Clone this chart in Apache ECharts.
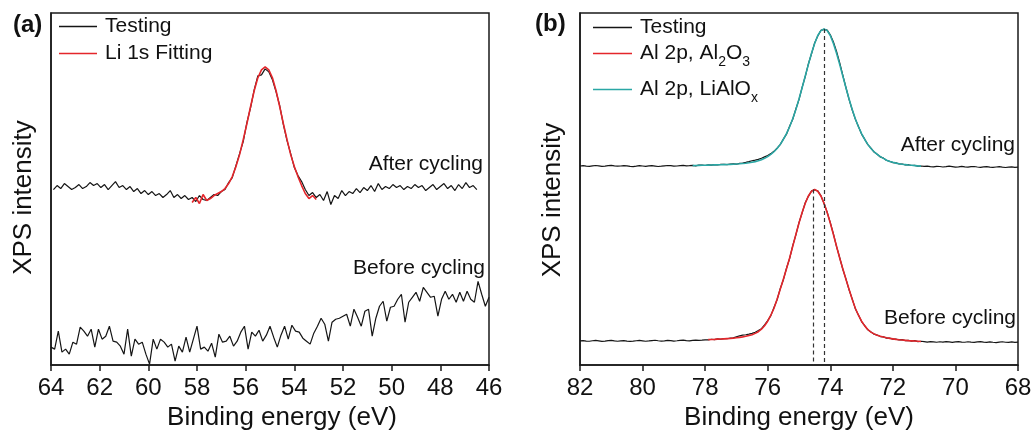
<!DOCTYPE html>
<html><head><meta charset="utf-8">
<script src="https://cdn.jsdelivr.net/npm/echarts@6/dist/echarts.min.js"></script>
<style>html,body{margin:0;padding:0;background:#fff}#chart{width:1036px;height:436px}</style>
</head><body><div id="chart"></div>
<script>
// ---------- Panel (a): Li 1s ----------
const aTicks = [64, 62, 60, 58, 56, 54, 52, 50, 48, 46];
const aAfterStart = 63.9, aAfterStep = 0.15;
const aTestingAfter = [176,180,177,182,179,176,178,181,177,179, 183,180,182,178,181,176,180,184,178,180,
  176,179,174,177,172,175,171,174,170,172, 168,171,175,168,171,167,170,166,168,164,
  170,166,165,168,171,170,174,176,183,188, 200,212,224,243,258,276,290,291,297,294,
  286,274,260,241,225,212,198,190,184,176, 170,173,168,171,165,174,161,170,167,175,
  170,174,172,177,173,178,175,180,174,182, 176,179,177,181,178,180,176,179,177,181,
  178,180,175,178,181,176,179,182,177,180, 175,181,177,183,178,180,176];
const aFitStart = 58.2, aFitStep = 0.15;
const aFitLi1s = [163,168,162,171,165,167,170,172,174,
  177,182,189,199,211,226,242,259,275,288,296,299,296,288,275,259,242,226,211,199,189,180,172,167,170,166];
const aBeforeStart = 64.0, aBeforeStep = 0.15;
const aTestingBefore = [18,16,34,13,16,11,23,21,38,34, 29,36,18,36,26,29,39,24,23,19,
  11,36,9,26,21,23,11,1,26,16, 26,23,18,21,4,19,13,28,13,26,
  39,16,18,14,22,8,31,23,24,29, 19,24,33,39,16,33,29,35,24,30,
  39,28,18,30,39,26,40,34,33,27, 24,21,32,39,47,41,24,43,46,47,
  49,51,39,56,48,39,54,56,29,47, 59,64,44,58,59,66,71,43,63,68,
  73,64,78,73,68,69,49,66,74,66, 71,63,73,64,74,66,63,84,71,59, 68];

// ---------- Panel (b): Al 2p ----------
const bTicks = [82, 80, 78, 76, 74, 72, 70, 68];
const bStart = 82.0, bStep = 0.1;
const bTestingAfter = [199.6,199.9,199.4,199.2,199.7,200.1,199.8,199.3,199.5,199.9,
  200.2,199.7,199.4,199.6,200.0,199.8,199.2,199.0,199.4,199.9,
  199.6,199.3,199.7,199.9,199.5,199.1,199.4,199.8,200.1,199.9,
  199.5,199.6,200.0,200.2,199.8,199.9,
  200.3,199.8,200.4,200.6,200.1,200.8,200.5,201.0,200.6,201.2,
  201.3,200.9,201.5,201.8,201.4,202.3,202.6,203.2,204.0,204.9,
  205.5,206.2,207.4,208.8,210.2,212.0,214.3,217.5,221.0,226.6,
  231.5,239.4,246.5,256.8,266.2,278.5,289.3,301.9,312.1,322.9,
  330.0,335.6,336.6,335.8,331.2,324.0,314.5,303.2,290.6,278.3,
  266.4,256.0,246.6,239.3,231.6,226.5,221.0,217.5,213.6,211.4,
  208.7,207.5,205.1,204.4,203.0,202.7,201.6,201.6,200.8,200.9,
  200.1,200.2,199.5,199.6,
  199.2,199.5,199.0,198.8,199.3,199.1,198.6,198.9,199.4,199.0,
  198.5,198.8,199.2,198.7,198.4,198.9,199.1,198.6,198.3,198.7,
  199.0,198.5,198.2,198.6,198.9,198.4,198.1,198.5,198.8,198.3,198.5];
const bLiAlOxStart = 78.4;
const bFitLiAlOx = [200.0,200.1,200.2,200.3,200.4,200.5,200.6,200.7,200.8,200.9,
  201.0,201.1,201.2,201.4,201.6,201.8,202.1,202.4,202.8,203.3,
  204.0,204.8,205.9,207.3,209.0,211.2,213.9,217.2,221.3,226.2,
  232.0,239.0,247.0,256.3,266.7,278.0,289.8,301.5,312.6,322.5,330.4,335.3,
  337.0,
  335.3,330.4,322.5,312.6,301.5,289.8,278.0,266.7,256.3,247.0,
  239.0,232.0,226.2,221.3,217.2,213.9,211.2,209.0,207.3,
  205.4,204.2,203.3,202.5,201.9,201.4,201.0,200.6,200.3,200.0,199.7,199.5];
const bTestingBefore = [24.2,24.6,24.1,23.9,24.4,24.7,24.3,23.8,24.0,24.5,
  24.8,24.2,23.9,24.3,24.6,24.1,23.7,24.0,24.4,24.7,
  24.3,23.9,24.2,24.6,24.9,24.4,24.0,24.3,24.7,24.5,
  24.1,24.4,24.8,25.0,24.6,24.3,24.7,25.1,24.8,25.0,25.3,
  25.2,25.9,25.6,26.3,25.9,26.6,26.4,27.0,27.3,28.4,
  29.3,30.0,30.4,31.0,31.8,32.9,34.6,36.5,40.3,44.6,
  49.6,57.8,65.5,76.6,85.5,97.1,106.8,119.8,130.5,142.9,
  152.6,162.8,169.2,174.6,175.6,174.6,169.9,162.0,153.4,142.9,
  131.5,118.8,107.9,96.1,86.4,75.5,66.4,56.6,50.3,43.6,
  39.6,35.4,33.3,31.0,30.1,28.6,28.3,27.1,27.0,26.0,
  26.1,25.2,25.5,24.6,24.8,24.1,24.5,23.6,23.9,
  23.5,23.1,23.6,23.3,22.9,23.4,23.0,23.5,23.2,22.8,
  23.3,23.6,23.1,22.9,23.4,23.0,22.7,23.2,23.5,23.0,
  22.8,23.3,22.9,22.6,23.1,23.4,22.9,22.7,23.2,22.8,23.0];
const bAl2O3Start = 77.9;
const bFitAl2O3 = [25.5,25.7,25.8,26.0,26.1,26.3,26.5,26.7,27.0,27.4,
  27.8,28.3,28.9,29.6,30.5,31.8,33.5,36.0,39.5,44.0,
  50.0,57.0,66.0,76.0,86.0,96.5,107.4,119.2,131.0,142.4,153.0,162.3,169.6,174.3,
  176.0,
  174.3,169.6,162.3,153.0,142.4,131.0,119.2,107.4,96.5,86.0,
  76.0,66.0,57.0,50.0,44.0,39.3,35.7,33.1,31.3,29.9,
  28.9,28.1,27.4,26.8,26.3,25.8,25.4,25.1,24.8,24.5,24.3,24.1,23.9,23.7];
const bPeakPositions = [74.54, 74.2];   // dashed guide lines (Al2O3, LiAlOx)

const names = ['Testing', 'Li 1s Fitting', 'Al 2p, Al2O3', 'Al 2p, LiAlOx'];
const labels = { after: 'After cycling', before: 'Before cycling' };

// ---------- build ----------
const FONT = 'Liberation Sans, Arial, sans-serif';
const C_BLACK = '#151515', C_RED = '#e4262b', C_TEAL = '#2aa7a5', C_AX = '#1a1a1a';
function pairs(start, step, vals) { return vals.map((v, i) => [+(start - step * i).toFixed(3), v]); }

const chart = echarts.init(document.getElementById('chart'), null, { renderer: 'canvas' });

function xAx(idx, min, max, namePad) {
  return {
    gridIndex: idx, type: 'value', min: min, max: max, interval: 2, inverse: true,
    axisLine: { onZero: false, lineStyle: { color: C_AX, width: 1.5 } },
    axisTick: { show: true, inside: false, length: 6, lineStyle: { color: C_AX, width: 1.5 } },
    axisLabel: { fontSize: 24, color: '#111', margin: 11, fontFamily: FONT },
    splitLine: { show: false },
    name: 'Binding energy (eV)', nameLocation: 'middle', nameGap: 37,
    nameTextStyle: { fontSize: 26, color: '#111', fontFamily: FONT, padding: namePad }
  };
}
function yAx(idx, namePad) {
  return {
    gridIndex: idx, type: 'value', min: 0, max: 353,
    axisLine: { show: true, onZero: false, lineStyle: { color: C_AX, width: 1.5 } },
    axisTick: { show: false }, axisLabel: { show: false }, splitLine: { show: false },
    name: 'XPS intensity', nameLocation: 'middle', nameGap: 14,
    nameTextStyle: { fontSize: 26, color: '#111', fontFamily: FONT, padding: namePad }
  };
}
function line(name, xi, data, color, width, extra) {
  return Object.assign({
    name: name, type: 'line', xAxisIndex: xi, yAxisIndex: xi, data: data,
    symbol: 'none', smooth: false, animation: false,
    lineStyle: { color: color, width: width }, itemStyle: { color: color }
  }, extra || {});
}
function dashed(x, yTop) {
  return {
    symbol: 'none', silent: true, animation: false,
    label: { show: false },
    lineStyle: { type: [4, 3], color: '#333', width: 1.2 },
    data: [[{ coord: [x, yTop] }, { coord: [x, 0] }]]
  };
}

const legendText = { fontSize: 21, color: '#111', fontFamily: FONT, padding: [0, 0, 0, 3],
  rich: { m: { fontSize: 21, color: '#111', fontFamily: FONT },
          s: { fontSize: 14, color: '#111', fontFamily: FONT, padding: [18, 0, 0, 0] } } };
function leg(name, left, top, w) {
  return { data: [name], left: left, top: top, padding: 0, itemWidth: w, itemHeight: 1.6,
    icon: 'rect', selectedMode: false, orient: 'vertical', textStyle: legendText,
    formatter: function (n) {
      if (n === 'Al 2p, Al2O3') return '{m|Al 2p, Al}{s|2}{m|O}{s|3}';
      if (n === 'Al 2p, LiAlOx') return '{m|Al 2p, LiAlO}{s|x}';
      return n;
    } };
}

function txt(x, y, s, size, bold, align) {
  return { type: 'text', x: x, y: y, silent: true,
    style: { text: s, fontSize: size, fontWeight: bold ? 'bold' : 'normal', fontFamily: FONT,
      fill: '#111', align: align, verticalAlign: 'middle', textAlign: align, textVerticalAlign: 'middle' } };
}

const option = {
  backgroundColor: '#fff',
  animation: false,
  grid: [
    { left: 51, top: 13, width: 438, height: 353, show: true, borderColor: C_AX, borderWidth: 1.5 },
    { left: 580, top: 13, width: 438, height: 353, show: true, borderColor: C_AX, borderWidth: 1.5 }
  ],
  xAxis: [xAx(0, aTicks[aTicks.length - 1], aTicks[0], [0, 0, 0, 24]),
          xAx(1, bTicks[bTicks.length - 1], bTicks[0], 0)],
  yAxis: [yAx(0, [0, 17, 0, 0]), yAx(1, [0, 22, 0, 0])],
  legend: [
    leg(names[0], 59, 16, 38),
    leg(names[1], 59, 43, 38),
    leg(names[0], 593, 17, 39),
    leg(names[2], 593, 43, 39),
    leg(names[3], 593, 79, 39)
  ],
  series: [
    line(names[0], 0, pairs(aAfterStart, aAfterStep, aTestingAfter), C_BLACK, 1.2),
    line(names[0], 0, pairs(aBeforeStart, aBeforeStep, aTestingBefore), C_BLACK, 1.2),
    line(names[1], 0, pairs(aFitStart, aFitStep, aFitLi1s), C_RED, 1.6),
    line(names[0], 1, pairs(bStart, bStep, bTestingAfter), C_BLACK, 1.2),
    line(names[0], 1, pairs(bStart, bStep, bTestingBefore), C_BLACK, 1.2),
    line(names[2], 1, pairs(bAl2O3Start, bStep, bFitAl2O3), C_RED, 1.6,
      { markLine: dashed(bPeakPositions[0], Math.max.apply(null, bFitAl2O3)) }),
    line(names[3], 1, pairs(bLiAlOxStart, bStep, bFitLiAlOx), C_TEAL, 1.6,
      { markLine: dashed(bPeakPositions[1], Math.max.apply(null, bFitLiAlOx)) })
  ],
  graphic: [
    txt(13, 25, '(a)', 24, true, 'left'),
    txt(535, 24, '(b)', 24, true, 'left'),
    txt(483, 164, labels.after, 21, false, 'right'),
    txt(485, 268, labels.before, 21, false, 'right'),
    txt(1015, 145, labels.after, 21, false, 'right'),
    txt(1016, 318, labels.before, 21, false, 'right')
  ]
};
chart.setOption(option);
</script>
</body></html>
